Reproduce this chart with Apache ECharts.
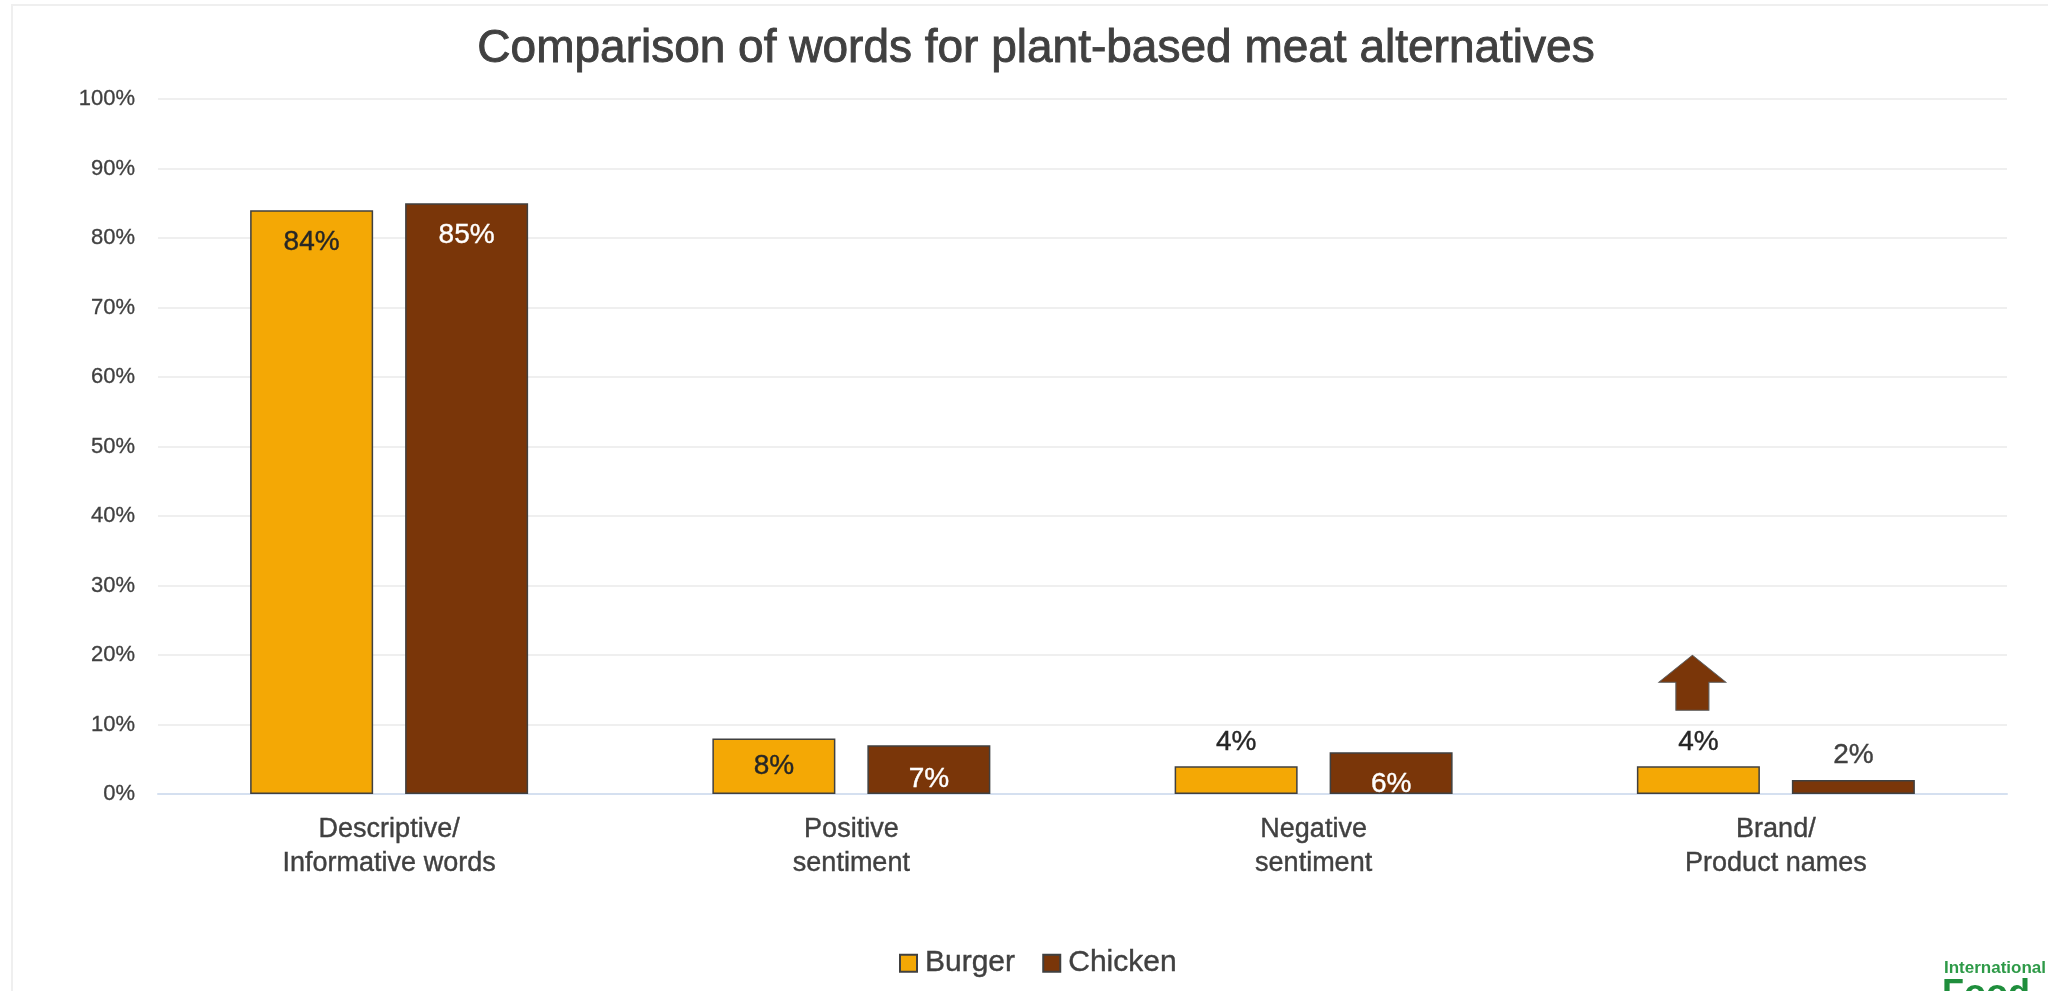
<!DOCTYPE html>
<html>
<head>
<meta charset="utf-8">
<title>Comparison of words for plant-based meat alternatives</title>
<script src="https://cdn.jsdelivr.net/npm/echarts@6/dist/echarts.min.js"></script>
<style>
  html, body { margin: 0; padding: 0; background: #ffffff; }
  #chart { width: 2048px; height: 991px; }
</style>
</head>
<body>
<div id="chart"></div>
<script>
// Word categories on the x axis
const categories = [
  'Descriptive/\nInformative words',
  'Positive\nsentiment',
  'Negative\nsentiment',
  'Brand/\nProduct names'
];
// Share of words (%) per product
const burgerValues = [84, 8, 4, 4];
const chickenValues = [85, 7, 6, 2];
// Value axis range (%)
const yMin = 0;
const yMax = 100;
const yStep = 10;

const FONT = '"Liberation Sans", Arial, sans-serif';
const TEXT = '#404040';
const BURGER = '#F4A805';
const CHICKEN = '#7A3609';

// Where each value label sits on its bar: [position, distance]
const burgerLabelPlacement = [['insideTop', 18], ['inside', 0], ['top', 10], ['top', 10]];
const chickenLabelPlacement = [['insideTop', 18], ['insideBottom', 1], ['insideBottom', -4], ['top', 11]];

function barData(values, placement, insideColor, outsideColor) {
  return values.map((v, i) => {
    const [pos, dist] = placement[i];
    const outside = pos === 'top';
    const color = outside ? outsideColor : insideColor;
    return {
      value: v,
      label: {
        position: pos,
        distance: dist,
        color: color,
        textBorderColor: color,
        textBorderWidth: 0.4
      }
    };
  });
}

const chart = echarts.init(document.getElementById('chart'), null, { renderer: 'canvas' });

const option = {
  backgroundColor: '#ffffff',
  animation: false,
  title: {
    text: 'Comparison of words for plant-based meat alternatives',
    left: 1031,
    textAlign: 'center',
    top: 21,
    textStyle: {
      fontFamily: FONT, fontSize: 46, fontWeight: 'normal', color: TEXT,
      textBorderColor: TEXT, textBorderWidth: 0.9
    }
  },
  legend: {
    data: ['Burger', 'Chicken'],
    left: 894,
    top: 943,
    icon: 'rect',
    itemWidth: 17,
    itemHeight: 17,
    itemGap: 27,
    textStyle: {
      fontFamily: FONT, fontSize: 30, color: TEXT, padding: [0, 0, 0, 3],
      textBorderColor: TEXT, textBorderWidth: 0.4
    }
  },
  grid: { left: 158, right: 41, top: 99, bottom: 197, containLabel: false },
  xAxis: {
    type: 'category',
    data: categories,
    axisTick: { show: false },
    axisLine: { show: true, lineStyle: { color: '#D5E0F0', width: 2 } },
    axisLabel: {
      fontFamily: FONT, fontSize: 27, color: TEXT,
      lineHeight: 34, margin: 19, interval: 0,
      textBorderColor: TEXT, textBorderWidth: 0.4
    }
  },
  yAxis: {
    type: 'value',
    min: yMin,
    max: yMax,
    interval: yStep,
    axisLine: { show: false },
    axisTick: { show: false },
    splitLine: { lineStyle: { color: '#EFEFEF', width: 2 } },
    axisLabel: {
      formatter: '{value}%',
      fontFamily: FONT, fontSize: 22, color: TEXT, margin: 23,
      textBorderColor: TEXT, textBorderWidth: 0.3
    }
  },
  series: [
    {
      name: 'Burger',
      type: 'bar',
      barWidth: 123,
      barGap: '26%',
      data: barData(burgerValues, burgerLabelPlacement, '#262626', '#262626'),
      itemStyle: { color: BURGER, borderColor: '#404040', borderWidth: 1.5 },
      label: {
        show: true,
        formatter: '{c}%',
        fontFamily: FONT, fontSize: 28
      },
      markPoint: {
        // up arrow above the brand-name burger bar
        symbol: 'path://M33.5,0 L67,27 L50,27 L50,55 L17,55 L17,27 L0,27 Z',
        symbolSize: [67, 55],
        symbolOffset: [-6, 0],
        silent: true,
        label: { show: false },
        itemStyle: { color: CHICKEN, borderColor: '#5a5a5a', borderWidth: 1 },
        data: [{ coord: [3, burgerValues[3] + 12] }]
      }
    },
    {
      name: 'Chicken',
      type: 'bar',
      barWidth: 123,
      data: barData(chickenValues, chickenLabelPlacement, '#ffffff', TEXT),
      itemStyle: { color: CHICKEN, borderColor: '#404040', borderWidth: 1.5 },
      label: {
        show: true,
        formatter: '{c}%',
        fontFamily: FONT, fontSize: 28
      }
    }
  ],
  graphic: [
    {
      type: 'rect',
      z: -10,
      silent: true,
      shape: { x: 12, y: 5, width: 2200, height: 1200 },
      style: { fill: 'none', stroke: '#EFEFEF', lineWidth: 2 }
    },
    {
      type: 'text',
      left: 1944,
      top: 960,
      silent: true,
      style: { text: 'International', font: 'bold 17px ' + FONT, fill: '#2E9A48' }
    },
    {
      type: 'text',
      left: 1942,
      top: 977,
      silent: true,
      style: { text: 'Food', font: 'bold 36px ' + FONT, fill: '#1F8E3C' }
    }
  ]
};

chart.setOption(option);
</script>
</body>
</html>
